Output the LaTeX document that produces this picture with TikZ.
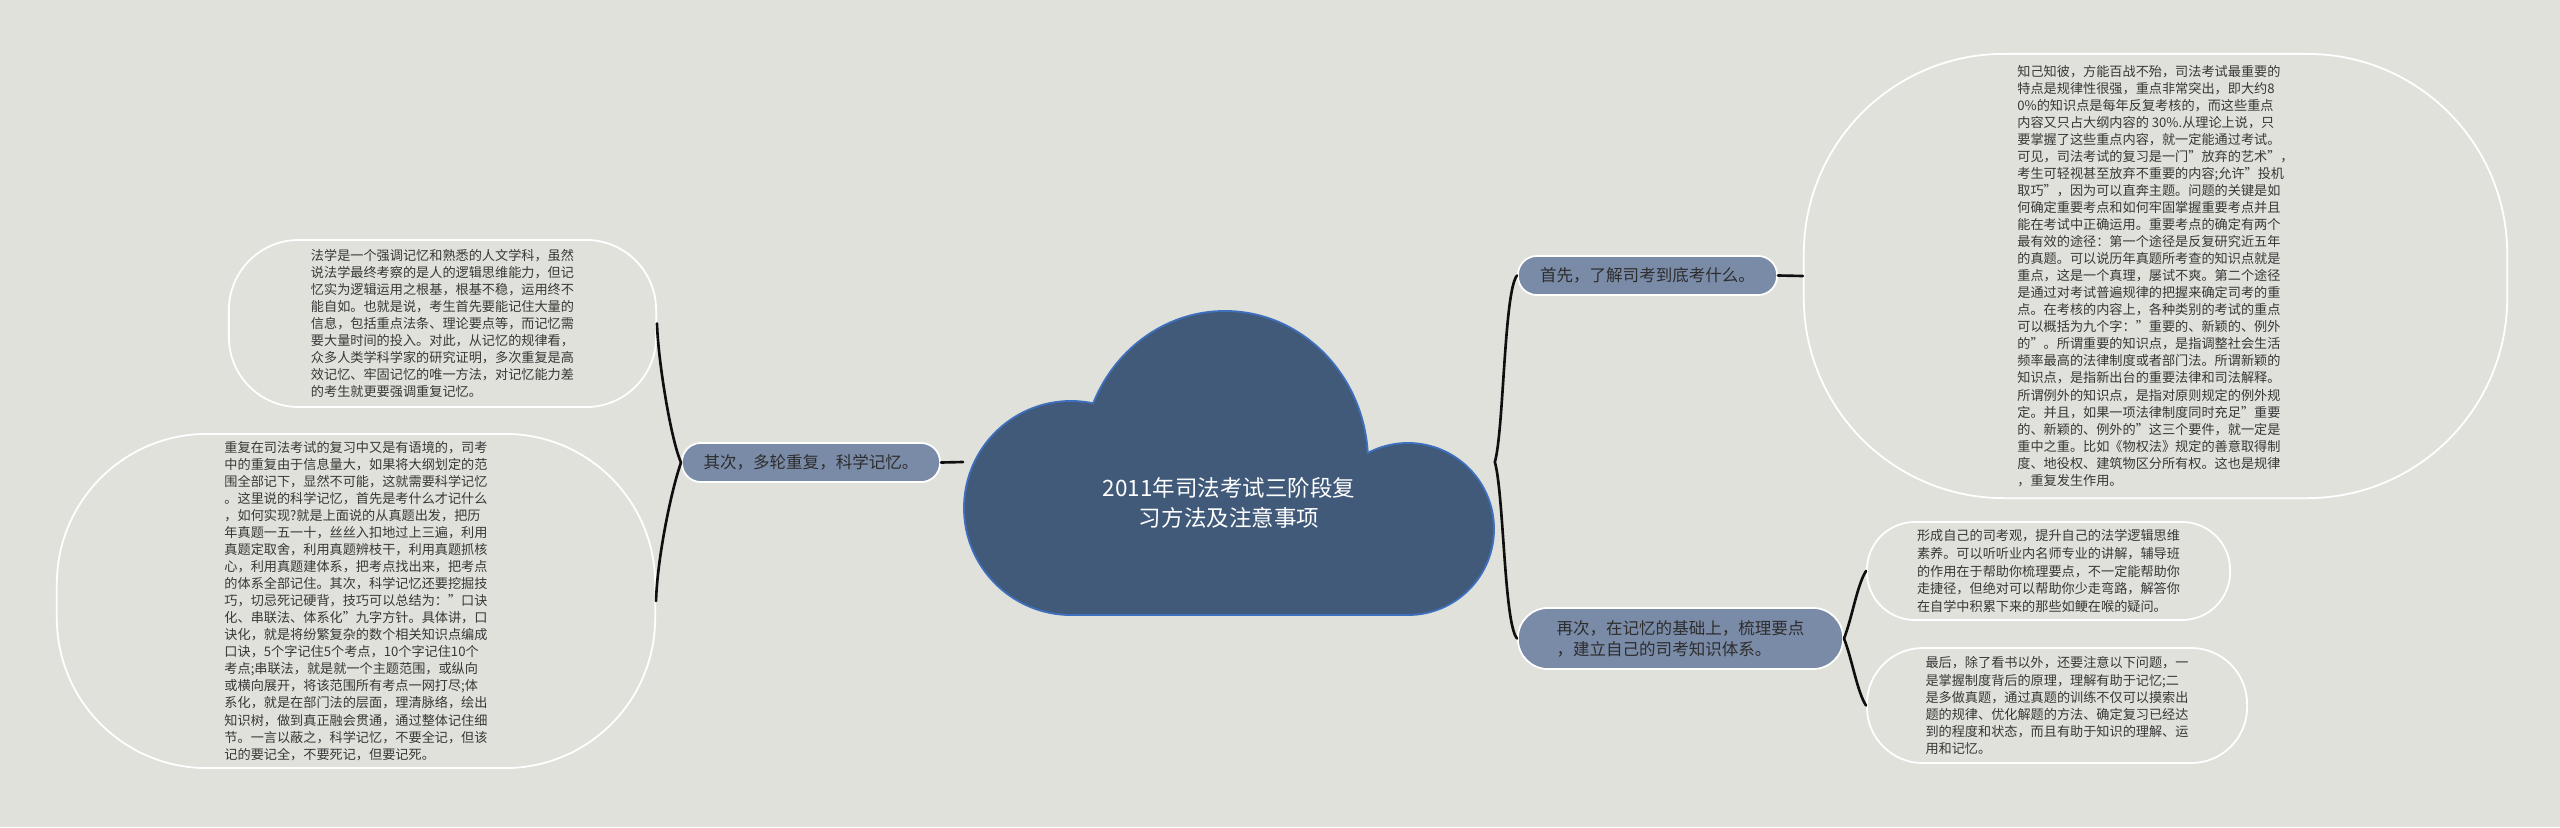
\documentclass[tikz,border=0pt]{standalone}
\usepackage{fontspec}
\setmainfont{Noto Sans CJK SC}
\definecolor{bgcol}{RGB}{225,225,220}
\definecolor{cloudfill}{RGB}{65,90,122}
\definecolor{cloudedge}{RGB}{62,112,190}
\definecolor{branchfill}{RGB}{122,139,168}
\definecolor{branchtext}{RGB}{45,45,45}
\definecolor{leaftext}{RGB}{55,55,55}
\definecolor{linecol}{RGB}{15,15,15}
\begin{document}
\begin{tikzpicture}[x=0.01cm,y=-0.01cm,
  branchbox/.style={draw=white,line width=0.5pt,fill=branchfill,text=branchtext,
    inner sep=0pt,align=left,font=\fontsize{4.7pt}{5.97pt}\selectfont},
  leafbox/.style={draw=white,line width=0.5pt,text=leaftext,inner sep=0pt,
    align=left,font=\fontsize{3.74pt}{4.84pt}\selectfont},
  conn/.style={draw=linecol,line width=0.75pt,line cap=round},
  roottext/.style={text=white,align=center,inner sep=0pt,
    font=\fontsize{6.4pt}{8.5pt}\selectfont}]
\useasboundingbox (0,0) rectangle (2560,827);
\fill[bgcol] (0,0) rectangle (2560,827);

% cloud: outline then fill
\begin{scope}
\draw[cloudedge,line width=1.1pt] (1071,508) ellipse[x radius=106,y radius=106];
\draw[cloudedge,line width=1.1pt] (1225,462) ellipse[x radius=142,y radius=150];
\draw[cloudedge,line width=1.1pt] (1408,529) ellipse[x radius=85,y radius=85];
\draw[cloudedge,line width=1.1pt] (1071,508) rectangle (1408,614);
\fill[cloudfill] (1071,508) ellipse[x radius=106,y radius=106];
\fill[cloudfill] (1225,462) ellipse[x radius=142,y radius=150];
\fill[cloudfill] (1408,529) ellipse[x radius=85,y radius=85];
\fill[cloudfill] (1071,508) rectangle (1408,614);
\end{scope}
\node[inner sep=0pt,minimum width=5.30cm,minimum height=3.04cm] (root) at (1229,462) {};
\node[roottext] (rt) at (1229,503) {2011年司法考试三阶段复\\习方法及注意事项};

% branches
\node[branchbox,rounded corners=0.19cm,minimum width=2.59cm,minimum height=0.39cm] (b1) at (1647.5,275.5) {首先，了解司考到底考什么。};
\node[branchbox,rounded corners=0.30cm,minimum width=3.25cm,minimum height=0.61cm] (b2) at (1680.5,638.5) {再次，在记忆的基础上，梳理要点\\，建立自己的司考知识体系。};
\node[branchbox,rounded corners=0.19cm,minimum width=2.58cm,minimum height=0.39cm] (b3) at (811,462.5) {其次，多轮重复，科学记忆。};

% leaves
\node[leafbox,rounded corners=0.7cm,minimum width=4.27cm,minimum height=1.67cm] (tl) at (442.5,323.5) {法学是一个强调记忆和熟悉的人文学科，虽然\\说法学最终考察的是人的逻辑思维能力，但记\\忆实为逻辑运用之根基，根基不稳，运用终不\\能自如。也就是说，考生首先要能记住大量的\\信息，包括重点法条、理论要点等，而记忆需\\要大量时间的投入。对此，从记忆的规律看，\\众多人类学科学家的研究证明，多次重复是高\\效记忆、牢固记忆的唯一方法，对记忆能力差\\的考生就更要强调重复记忆。};

\node[leafbox,rounded corners=1.5cm,minimum width=5.98cm,minimum height=3.34cm] (bl) at (356,601) {重复在司法考试的复习中又是有语境的，司考\\中的重复由于信息量大，如果将大纲划定的范\\围全部记下，显然不可能，这就需要科学记忆\\。这里说的科学记忆，首先是考什么才记什么\\，如何实现?就是上面说的从真题出发，把历\\年真题一五一十，丝丝入扣地过上三遍，利用\\真题定取舍，利用真题辨枝干，利用真题抓核\\心，利用真题建体系，把考点找出来，把考点\\的体系全部记住。其次，科学记忆还要挖掘技\\巧，切忌死记硬背，技巧可以总结为："口诀\\化、串联法、体系化"九字方针。具体讲，口\\诀化，就是将纷繁复杂的数个相关知识点编成\\口诀，5个字记住5个考点，10个字记住10个\\考点;串联法，就是就一个主题范围，或纵向\\或横向展开，将该范围所有考点一网打尽;体\\系化，就是在部门法的层面，理清脉络，绘出\\知识树，做到真正融会贯通，通过整体记住细\\节。一言以蔽之，科学记忆，不要全记，但该\\记的要记全，不要死记，但要记死。};

\node[leafbox,rounded corners=2.0cm,minimum width=7.03cm,minimum height=4.44cm] (br) at (2155.5,276) {知己知彼，方能百战不殆，司法考试最重要的\\特点是规律性很强，重点非常突出，即大约8\\0\%的知识点是每年反复考核的，而这些重点\\内容又只占大纲内容的 30\%.从理论上说，只\\要掌握了这些重点内容，就一定能通过考试。\\可见，司法考试的复习是一门"放弃的艺术"，\\考生可轻视甚至放弃不重要的内容;允许"投机\\取巧"，因为可以直奔主题。问题的关键是如\\何确定重要考点和如何牢固掌握重要考点并且\\能在考试中正确运用。重要考点的确定有两个\\最有效的途径：第一个途径是反复研究近五年\\的真题。可以说历年真题所考查的知识点就是\\重点，这是一个真理，屡试不爽。第二个途径\\是通过对考试普遍规律的把握来确定司考的重\\点。在考核的内容上，各种类别的考试的重点\\可以概括为九个字："重要的、新颖的、例外\\的"。所谓重要的知识点，是指调整社会生活\\频率最高的法律制度或者部门法。所谓新颖的\\知识点，是指新出台的重要法律和司法解释。\\所谓例外的知识点，是指对原则规定的例外规\\定。并且，如果一项法律制度同时充足"重要\\的、新颖的、例外的"这三个要件，就一定是\\重中之重。比如《物权法》规定的善意取得制\\度、地役权、建筑物区分所有权。这也是规律\\，重复发生作用。};

\node[leafbox,font=\fontsize{3.74pt}{5.1pt}\selectfont,rounded corners=0.48cm,minimum width=3.63cm,minimum height=0.98cm] (r1) at (2048.5,571) {形成自己的司考观，提升自己的法学逻辑思维\\素养。可以听听业内名师专业的讲解，辅导班\\的作用在于帮助你梳理要点，不一定能帮助你\\走捷径，但绝对可以帮助你少走弯路，解答你\\在自学中积累下来的那些如鲠在喉的疑问。};

\node[leafbox,rounded corners=0.56cm,minimum width=3.80cm,minimum height=1.15cm] (r2) at (2057,705.5) {最后，除了看书以外，还要注意以下问题，一\\是掌握制度背后的原理，理解有助于记忆;二\\是多做真题，通过真题的训练不仅可以摸索出\\题的规律、优化解题的方法、确定复习已经达\\到的程度和状态，而且有助于知识的理解、运\\用和记忆。};

% connectors
\draw[conn] (root.east) .. controls +(9,-32) and +(-13,15) .. (b1.west);
\draw[conn] (root.east) .. controls +(9,32) and +(-13,-15) .. (b2.west);
\draw[conn] (b1.east) -- (br.west);
\draw[conn] (root.west) -- (b3.east);
\draw[conn] (b3.west) .. controls +(-10,-22) and +(1,37) .. (tl.east);
\draw[conn] (b3.west) .. controls +(-10,28) and +(1,-41) .. (bl.east);
\draw[conn] (b2.east) .. controls +(8,-20) and +(-9,14) .. (r1.west);
\draw[conn] (b2.east) .. controls +(8,20) and +(-9,-14) .. (r2.west);
\end{tikzpicture}
\end{document}
